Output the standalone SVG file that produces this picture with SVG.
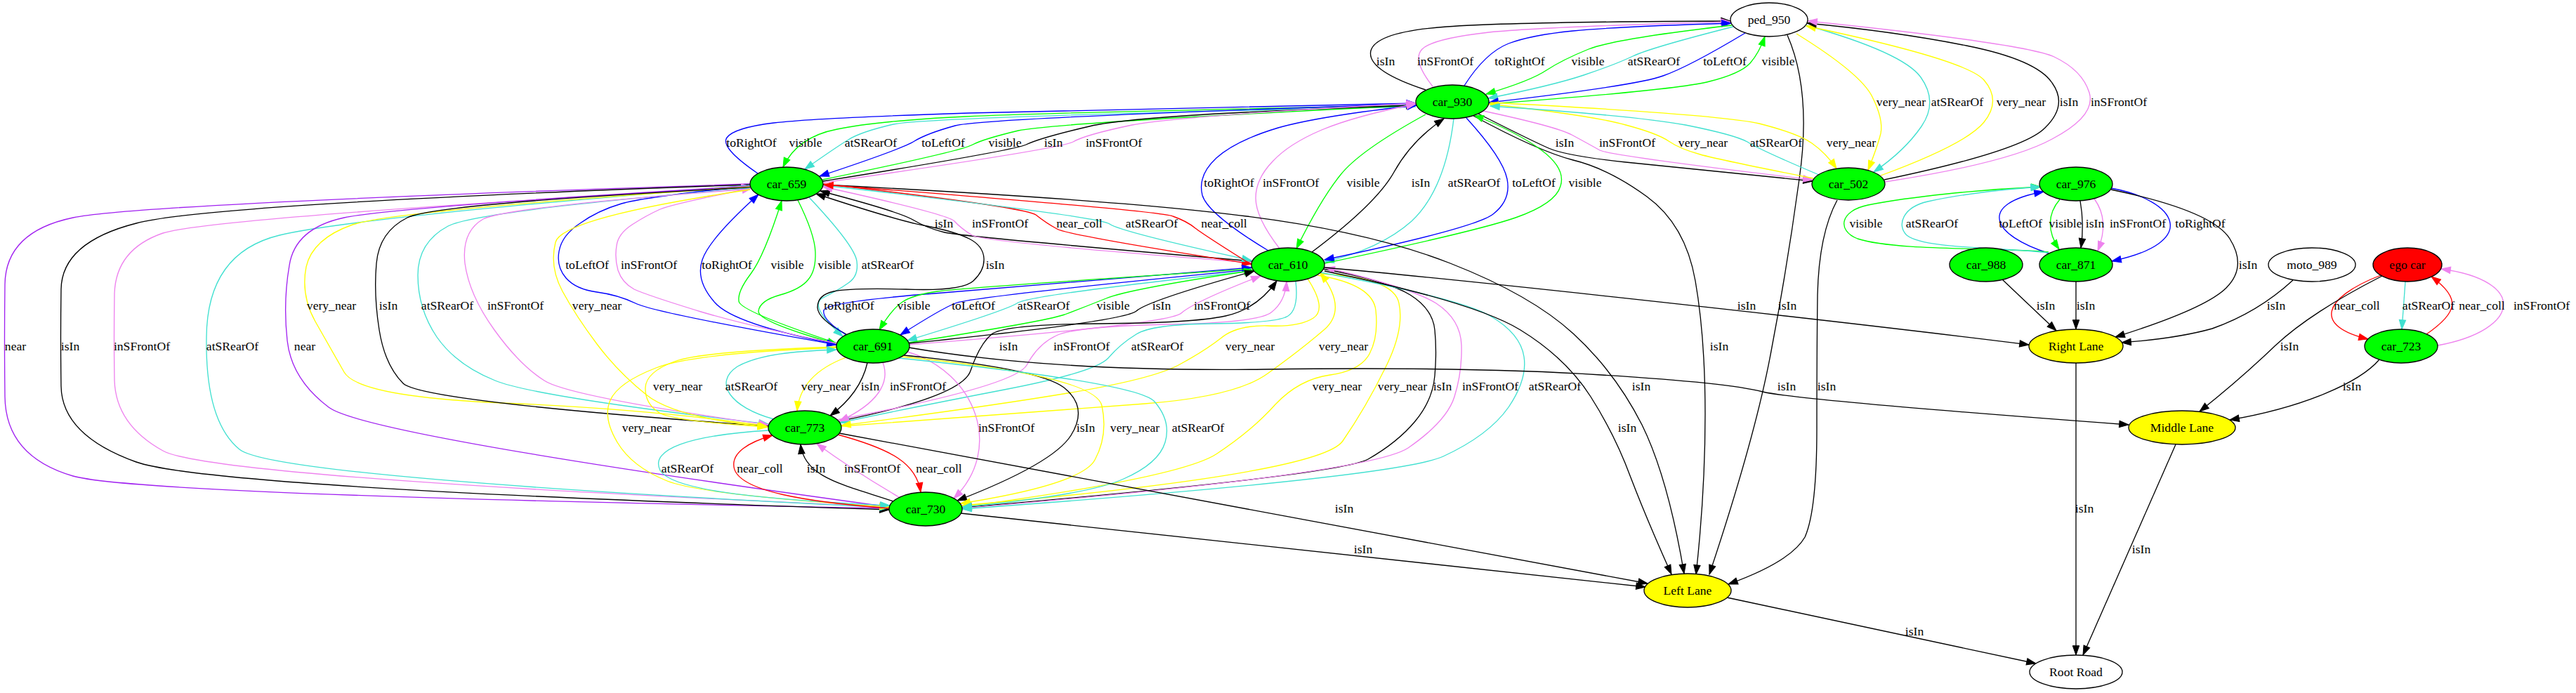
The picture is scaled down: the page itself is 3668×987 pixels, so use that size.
<svg xmlns="http://www.w3.org/2000/svg" width="3668" height="987" viewBox="0 0 3668 987">
<style>
.e{fill:none;stroke-width:1.33}
.k{stroke:#000;marker-end:url(#ak)}
.g{stroke:#00ff00;marker-end:url(#ag)}
.b{stroke:#0000ff;marker-end:url(#ab)}
.c{stroke:#40e0d0;marker-end:url(#ac)}
.v{stroke:#ee82ee;marker-end:url(#av)}
.y{stroke:#ffff00;marker-end:url(#ay)}
.r{stroke:#ff0000;marker-end:url(#ar)}
.p{stroke:#a020f0;marker-end:url(#ap)}
.n ellipse{stroke:#000;stroke-width:1.33}
.t{font-family:"Liberation Serif","Times New Roman",serif;font-size:17.6px;text-anchor:middle;fill:#000}
</style>
<defs>
<marker id="ak" markerWidth="14" markerHeight="10" refX="13.3" refY="0" orient="auto" markerUnits="userSpaceOnUse" overflow="visible"><path d="M0,-4.7L13.3,0L0,4.7Z" fill="#000" stroke="#000"/></marker>
<marker id="ag" markerWidth="14" markerHeight="10" refX="13.3" refY="0" orient="auto" markerUnits="userSpaceOnUse" overflow="visible"><path d="M0,-4.7L13.3,0L0,4.7Z" fill="#00ff00" stroke="#00ff00"/></marker>
<marker id="ab" markerWidth="14" markerHeight="10" refX="13.3" refY="0" orient="auto" markerUnits="userSpaceOnUse" overflow="visible"><path d="M0,-4.7L13.3,0L0,4.7Z" fill="#0000ff" stroke="#0000ff"/></marker>
<marker id="ac" markerWidth="14" markerHeight="10" refX="13.3" refY="0" orient="auto" markerUnits="userSpaceOnUse" overflow="visible"><path d="M0,-4.7L13.3,0L0,4.7Z" fill="#40e0d0" stroke="#40e0d0"/></marker>
<marker id="av" markerWidth="14" markerHeight="10" refX="13.3" refY="0" orient="auto" markerUnits="userSpaceOnUse" overflow="visible"><path d="M0,-4.7L13.3,0L0,4.7Z" fill="#ee82ee" stroke="#ee82ee"/></marker>
<marker id="ay" markerWidth="14" markerHeight="10" refX="13.3" refY="0" orient="auto" markerUnits="userSpaceOnUse" overflow="visible"><path d="M0,-4.7L13.3,0L0,4.7Z" fill="#ffff00" stroke="#ffff00"/></marker>
<marker id="ar" markerWidth="14" markerHeight="10" refX="13.3" refY="0" orient="auto" markerUnits="userSpaceOnUse" overflow="visible"><path d="M0,-4.7L13.3,0L0,4.7Z" fill="#ff0000" stroke="#ff0000"/></marker>
<marker id="ap" markerWidth="14" markerHeight="10" refX="13.3" refY="0" orient="auto" markerUnits="userSpaceOnUse" overflow="visible"><path d="M0,-4.7L13.3,0L0,4.7Z" fill="#a020f0" stroke="#a020f0"/></marker>
</defs>
<rect width="3668" height="987" fill="#fff"/>
<g id="connectors">
<path class="e k" d="M2030,128 Q1945,100 1952,72 Q1960,45 2060,38 Q2160,31 2464,30"/>
<path class="e v" d="M2040,123 Q2010,85 2025,70 Q2040,55 2120,46 Q2200,38 2464,31"/>
<path class="e b" d="M2085,122 Q2115,75 2148,62 Q2180,50 2240,44 Q2300,38 2465,33"/>
<path class="e g" d="M2466,36 Q2300,55 2262,70 Q2225,85 2202,100 Q2180,115 2116,134"/>
<path class="e c" d="M2468,38 Q2350,68 2325,80 Q2300,92 2255,107 Q2210,122 2119,140"/>
<path class="e b" d="M2485,47 Q2405,95 2368,108 Q2330,122 2120,146"/>
<path class="e g" d="M2120,148 Q2390,128 2434,116 Q2478,105 2492,90 Q2505,75 2513,52"/>
<path class="e y" d="M2558,48 Q2650,105 2666,138 Q2682,170 2678,190 Q2673,210 2660,242"/>
<path class="e c" d="M2572,36 Q2710,75 2735,110 Q2760,145 2736,180 Q2712,215 2668,245"/>
<path class="e y" d="M2678,250 Q2800,205 2825,174 Q2850,143 2825,114 Q2800,85 2572,37"/>
<path class="e k" d="M2683,256 Q2880,215 2912,182 Q2945,150 2922,118 Q2900,85 2800,65 Q2700,45 2573,33"/>
<path class="e v" d="M2684,259 Q2860,232 2922,198 Q2985,165 2975,132 Q2965,100 2925,81 Q2885,62 2574,30"/>
<path class="e k" d="M2545,50 Q2580,130 2562,255 Q2545,380 2522,500 Q2500,620 2434,818"/>
<path class="e k" d="M2105,162 Q2180,200 2205,211 Q2230,222 2315,231 Q2400,240 2581,258"/>
<path class="e v" d="M2112,158 Q2215,180 2238,192 Q2262,205 2278,214 Q2295,222 2581,256"/>
<path class="e y" d="M2582,254 Q2450,228 2421,220 Q2392,212 2376,201 Q2360,190 2315,178 Q2270,165 2120,148"/>
<path class="e c" d="M2590,249 Q2505,213 2488,202 Q2470,192 2400,178 Q2330,165 2122,151"/>
<path class="e y" d="M2122,146 Q2450,163 2505,176 Q2560,190 2580,204 Q2600,218 2615,240"/>
<path class="e k" d="M2098,165 Q2190,215 2240,228 Q2290,240 2345,280 Q2400,320 2414,400 Q2428,480 2428,590 Q2428,700 2415,818"/>
<path class="e b" d="M1079,247 Q1025,210 1035,196 Q1045,182 1102,175 Q1160,168 1380,161 Q1600,155 2016,147"/>
<path class="e g" d="M2016,150 Q1500,160 1375,166 Q1250,172 1192,184 Q1135,195 1115,238"/>
<path class="e c" d="M2016,152 Q1320,166 1272,177 Q1225,188 1208,199 Q1190,210 1146,241"/>
<path class="e b" d="M2016,148 Q1400,168 1360,179 Q1320,190 1302,201 Q1285,212 1167,251"/>
<path class="e g" d="M1171,256 Q1370,215 1385,206 Q1400,198 1450,186 Q1500,175 2016,150"/>
<path class="e k" d="M1172,258 Q1440,215 1461,206 Q1482,196 1551,180 Q1620,163 2016,150"/>
<path class="e v" d="M1173,260 Q1510,212 1528,202 Q1545,192 1612,178 Q1680,165 2016,147"/>
<path class="e b" d="M1806,357 Q1720,305 1712,278 Q1705,250 1732,225 Q1760,200 1820,182 Q1880,165 2017,150"/>
<path class="e v" d="M1822,354 Q1788,310 1788,282 Q1788,255 1812,230 Q1835,205 1882,185 Q1930,165 2016,148"/>
<path class="e g" d="M2030,163 Q1935,215 1908,250 Q1880,285 1846,354"/>
<path class="e k" d="M1868,359 Q1960,290 1985,245 Q2010,200 2056,169"/>
<path class="e c" d="M2070,169 Q2058,270 2010,315 Q1965,355 1886,373"/>
<path class="e b" d="M2088,168 Q2140,225 2146,255 Q2152,285 2126,305 Q2100,325 1886,370"/>
<path class="e g" d="M1886,375 Q2100,330 2158,310 Q2215,290 2222,265 Q2230,240 2195,214 Q2160,188 2099,164"/>
<path class="e k" d="M1172,263 Q1600,285 1775,308 Q1950,330 2065,375 Q2180,420 2240,475 Q2300,530 2338,605 Q2375,680 2398,817"/>
<path class="e k" d="M1783,372 Q1370,337 1345,331 Q1320,325 1298,312 Q1275,300 1168,272"/>
<path class="e v" d="M1783,374 Q1400,345 1384,335 Q1368,325 1359,315 Q1350,305 1172,266"/>
<path class="e r" d="M1173,262 Q1460,295 1475,306 Q1490,318 1505,326 Q1520,335 1782,376"/>
<path class="e c" d="M1173,264 Q1565,308 1580,319 Q1595,330 1782,371"/>
<path class="e r" d="M1782,377 Q1715,335 1702,325 Q1690,315 1670,308 Q1650,300 1173,263"/>
<path class="e b" d="M1191,490 Q1045,462 1018,431 Q990,400 1000,370 Q1010,340 1080,277"/>
<path class="e g" d="M1192,489 Q1053,443 1052,429 Q1050,415 1069,390 Q1088,365 1113,286"/>
<path class="e g" d="M1136,285 Q1160,333 1161,359 Q1162,385 1151,398 Q1140,412 1111,420 Q1082,428 1080,443 Q1078,458 1192,490"/>
<path class="e c" d="M1152,281 Q1217,350 1220,372 Q1223,393 1208,403 Q1194,413 1172,424 Q1150,435 1200,479"/>
<path class="e k" d="M1205,476 Q1165,455 1164,438 Q1164,420 1187,415 Q1210,410 1290,412 Q1370,415 1386,400 Q1402,385 1401,368 Q1400,350 1380,340 Q1360,330 1320,322 Q1280,315 1162,276"/>
<path class="e b" d="M1068,265 Q920,280 885,290 Q851,300 826,318 Q800,335 796,358 Q792,380 806,396 Q820,412 850,416 Q880,420 905,432 Q930,445 1191,491"/>
<path class="e v" d="M1191,489 Q1076,467 998,444 Q920,420 903,412 Q886,403 880,385 Q875,367 878,350 Q880,333 900,320 Q920,307 940,298 Q960,290 1070,268"/>
<path class="e p" d="M1068,262 Q200,290 104,310 Q8,330 7,405 Q6,480 7,565 Q8,650 104,678 Q200,705 1266,724"/>
<path class="e k" d="M1068,263 Q300,290 194,318 Q88,345 87,412 Q86,480 87,550 Q88,620 194,658 Q300,695 1266,726"/>
<path class="e v" d="M1266,722 Q300,680 232,642 Q165,605 163,542 Q162,480 163,418 Q165,355 232,332 Q300,310 1069,266"/>
<path class="e c" d="M1068,264 Q500,310 398,335 Q295,360 294,480 Q292,600 341,640 Q390,680 1266,723"/>
<path class="e p" d="M1068,265 Q560,295 490,310 Q420,325 412,378 Q403,430 409,485 Q415,540 468,580 Q520,620 1266,722"/>
<path class="e y" d="M1068,266 Q560,300 502,320 Q445,340 436,380 Q428,420 449,458 Q470,495 490,530 Q510,565 715,574 Q920,582 1094,607"/>
<path class="e k" d="M1068,267 Q620,290 580,310 Q540,330 536,375 Q532,420 540,470 Q548,520 574,546 Q600,572 1094,607"/>
<path class="e c" d="M1068,268 Q680,300 638,322 Q595,345 595,392 Q595,440 622,480 Q650,520 705,542 Q760,565 1094,604"/>
<path class="e v" d="M1068,269 Q720,295 688,312 Q657,330 662,375 Q668,420 704,470 Q740,520 775,542 Q810,565 1094,605"/>
<path class="e y" d="M1068,270 Q800,310 791,345 Q782,380 801,415 Q820,450 850,490 Q880,530 920,562 Q960,595 1094,608"/>
<path class="e b" d="M1205,477 Q1170,455 1173,442 Q1176,430 1330,418 Q1480,405 1782,381"/>
<path class="e g" d="M1782,383 Q1370,410 1335,415 Q1300,420 1285,430 Q1270,440 1252,470"/>
<path class="e b" d="M1782,384 Q1380,423 1360,432 Q1340,440 1282,477"/>
<path class="e c" d="M1782,386 Q1465,420 1448,432 Q1430,443 1292,485"/>
<path class="e g" d="M1294,488 Q1487,458 1516,448 Q1545,437 1575,425 Q1605,412 1785,385"/>
<path class="e k" d="M1294,489 Q1600,458 1618,443 Q1635,428 1786,386"/>
<path class="e v" d="M1293,491 Q1665,462 1682,446 Q1700,430 1795,393"/>
<path class="e k" d="M1194,600 Q1370,565 1382,528 Q1395,490 1412,476 Q1430,462 1565,461 Q1700,460 1745,450 Q1790,440 1818,400"/>
<path class="e v" d="M1192,598 Q1445,550 1462,520 Q1478,490 1504,478 Q1530,465 1660,462 Q1790,460 1810,445 Q1830,430 1832,401"/>
<path class="e c" d="M1845,401 Q1850,445 1830,452 Q1810,460 1725,461 Q1640,462 1618,476 Q1595,490 1578,510 Q1560,530 1430,555 Q1300,580 1196,602"/>
<path class="e y" d="M1862,397 Q1890,440 1870,453 Q1850,466 1805,464 Q1760,463 1738,482 Q1715,500 1678,520 Q1640,540 1520,560 Q1400,580 1198,606"/>
<path class="e y" d="M1199,607 Q1500,585 1630,575 Q1760,565 1805,532 Q1850,500 1885,470 Q1920,440 1880,389"/>
<path class="e y" d="M1876,392 Q1955,405 1959,442 Q1963,480 1950,504 Q1937,528 1894,534 Q1850,540 1816,576 Q1783,613 1733,646 Q1683,680 1370,722"/>
<path class="e y" d="M1880,390 Q1985,395 1992,432 Q2000,470 1972,525 Q1945,580 1912,628 Q1880,675 1370,720"/>
<path class="e k" d="M1884,383 Q1976,400 2008,420 Q2040,440 2043,470 Q2046,500 2043,535 Q2040,570 2015,600 Q1990,630 1948,654 Q1906,677 1370,723"/>
<path class="e v" d="M1370,724 Q1950,675 2005,638 Q2060,600 2071,565 Q2082,530 2081,492 Q2080,455 2045,432 Q2010,410 1887,381"/>
<path class="e c" d="M1880,388 Q2080,425 2122,450 Q2165,475 2170,508 Q2175,540 2148,580 Q2120,620 2055,650 Q1990,680 1370,725"/>
<path class="e v" d="M1292,501 C1390,530 1430,640 1358,710"/>
<path class="e k" d="M1287,506 Q1480,525 1515,552 Q1550,580 1525,620 Q1500,660 1363,713"/>
<path class="e y" d="M1284,508 Q1560,535 1569,578 Q1578,620 1559,655 Q1540,690 1368,717"/>
<path class="e c" d="M1280,510 Q1620,545 1644,572 Q1668,600 1659,630 Q1650,660 1600,682 Q1550,705 1370,722"/>
<path class="e y" d="M1192,495 Q987,503 934,524 Q880,545 869,570 Q858,595 879,630 Q900,665 950,685 Q1000,705 1266,722"/>
<path class="e y" d="M1192,494 Q1000,500 960,515 Q920,530 919,552 Q918,575 939,588 Q960,600 1092,608"/>
<path class="e c" d="M1102,597 C1040,580 1015,545 1050,522 C1080,505 1130,500 1191,498"/>
<path class="e y" d="M1205,509 Q1140,533 1135,585"/>
<path class="e k" d="M1235,517 Q1225,560 1182,592"/>
<path class="e v" d="M1257,516 C1268,545 1250,575 1195,600"/>
<path class="e c" d="M1094,613 C980,620 925,640 940,670 C955,695 1050,710 1267,720"/>
<path class="e r" d="M1266,724 C1150,715 1050,700 1045,665 C1042,645 1065,630 1100,620"/>
<path class="e k" d="M1272,714 C1200,690 1145,680 1140,633"/>
<path class="e v" d="M1280,708 Q1215,670 1163,632"/>
<path class="e r" d="M1193,619 C1270,640 1305,660 1311,701"/>
<path class="e b" d="M2918,361 C2835,335 2815,290 2910,273"/>
<path class="e g" d="M2933,284 C2915,305 2915,330 2932,355"/>
<path class="e k" d="M2962,286 Q2968,320 2963,353"/>
<path class="e v" d="M2982,283 C2998,305 2998,330 2987,357"/>
<path class="e b" d="M3006,268 C3100,285 3135,345 3007,372"/>
<path class="e g" d="M2917,359 C2850,352 2700,358 2645,340 C2615,328 2620,300 2660,292 C2720,280 2820,270 2906,266"/>
<path class="e c" d="M2917,360 C2850,352 2740,355 2715,335 C2700,320 2710,295 2745,287 C2790,277 2850,270 2905,266"/>
<path class="e r" d="M3390,392 C3305,425 3295,465 3372,483"/>
<path class="e c" d="M3425,401 L3420,469"/>
<path class="e r" d="M3455,476 C3500,445 3505,425 3462,394"/>
<path class="e v" d="M3471,492 C3590,470 3600,400 3476,383"/>
<path class="e k" d="M1886,381 C2100,400 2600,455 2889,491"/>
<path class="e k" d="M3006,270 Q3150,300 3175,340 Q3200,380 3170,410 Q3140,440 3012,480"/>
<path class="e k" d="M3265,399 Q3215,445 3150,468 Q3100,482 3021,488"/>
<path class="e k" d="M2851,398 L2928,471"/>
<path class="e k" d="M2956,401 L2956,469"/>
<path class="e k" d="M1886,386 Q2100,430 2165,470 Q2230,510 2265,565 Q2300,620 2322,680 Q2345,740 2380,818"/>
<path class="e k" d="M2616,285 Q2590,333 2588,420 Q2587,500 2587,610 Q2587,727 2570,765 Q2550,800 2461,832"/>
<path class="e k" d="M1195,617 L2346,831"/>
<path class="e k" d="M1368,731 L2343,836"/>
<path class="e k" d="M2459,851 L2899,945"/>
<path class="e k" d="M2956,517 L2956,933"/>
<path class="e k" d="M3098,633 L2966,933"/>
<path class="e k" d="M1294,495 Q1500,530 1800,526 Q2100,522 2280,534 Q2460,545 2510,558 Q2560,570 3031,605"/>
<path class="e k" d="M3392,393 Q3290,445 3240,492 Q3190,540 3132,586"/>
<path class="e k" d="M3388,512 C3360,545 3280,580 3175,598"/>
</g>
<g id="node-ped_950" class="n"><ellipse cx="2519" cy="28" rx="55" ry="24" fill="#ffffff"/><text class="t" x="2519" y="34">ped_950</text></g>
<g id="node-car_930" class="n"><ellipse cx="2068" cy="145" rx="52" ry="24" fill="#00ff00"/><text class="t" x="2068" y="151">car_930</text></g>
<g id="node-car_659" class="n"><ellipse cx="1120" cy="262" rx="52" ry="24" fill="#00ff00"/><text class="t" x="1120" y="268">car_659</text></g>
<g id="node-car_502" class="n"><ellipse cx="2632" cy="262" rx="52" ry="23" fill="#00ff00"/><text class="t" x="2632" y="268">car_502</text></g>
<g id="node-car_976" class="n"><ellipse cx="2956" cy="262" rx="52" ry="24" fill="#00ff00"/><text class="t" x="2956" y="268">car_976</text></g>
<g id="node-car_610" class="n"><ellipse cx="1834" cy="377" rx="52" ry="24" fill="#00ff00"/><text class="t" x="1834" y="383">car_610</text></g>
<g id="node-car_988" class="n"><ellipse cx="2828" cy="377" rx="52" ry="24" fill="#00ff00"/><text class="t" x="2828" y="383">car_988</text></g>
<g id="node-car_871" class="n"><ellipse cx="2956" cy="377" rx="52" ry="24" fill="#00ff00"/><text class="t" x="2956" y="383">car_871</text></g>
<g id="node-moto_989" class="n"><ellipse cx="3292" cy="377" rx="62" ry="24" fill="#ffffff"/><text class="t" x="3292" y="383">moto_989</text></g>
<g id="node-ego_car" class="n"><ellipse cx="3428" cy="377" rx="49" ry="24" fill="#ff0000"/><text class="t" x="3428" y="383">ego car</text></g>
<g id="node-car_691" class="n"><ellipse cx="1243" cy="493" rx="52" ry="24" fill="#00ff00"/><text class="t" x="1243" y="499">car_691</text></g>
<g id="node-right_lane" class="n"><ellipse cx="2956" cy="493" rx="67" ry="24" fill="#ffff00"/><text class="t" x="2956" y="499">Right Lane</text></g>
<g id="node-car_723" class="n"><ellipse cx="3419" cy="493" rx="52" ry="24" fill="#00ff00"/><text class="t" x="3419" y="499">car_723</text></g>
<g id="node-car_773" class="n"><ellipse cx="1146" cy="609" rx="52" ry="24" fill="#00ff00"/><text class="t" x="1146" y="615">car_773</text></g>
<g id="node-middle_lane" class="n"><ellipse cx="3107" cy="609" rx="76" ry="24" fill="#ffff00"/><text class="t" x="3107" y="615">Middle Lane</text></g>
<g id="node-car_730" class="n"><ellipse cx="1318" cy="725" rx="52" ry="24" fill="#00ff00"/><text class="t" x="1318" y="731">car_730</text></g>
<g id="node-left_lane" class="n"><ellipse cx="2403" cy="841" rx="62" ry="24" fill="#ffff00"/><text class="t" x="2403" y="847">Left Lane</text></g>
<g id="node-root_road" class="n"><ellipse cx="2956" cy="957" rx="66" ry="24" fill="#ffffff"/><text class="t" x="2956" y="963">Root Road</text></g>
<g id="edge-labels" class="t">
<text x="1973" y="93">isIn</text><text x="2058" y="93">inSFrontOf</text><text x="2164" y="93">toRightOf</text><text x="2261" y="93">visible</text><text x="2355" y="93">atSRearOf</text><text x="2456" y="93">toLeftOf</text><text x="2532" y="93">visible</text>
<text x="2707" y="151">very_near</text><text x="2787" y="151">atSRearOf</text><text x="2878" y="151">very_near</text><text x="2946" y="151">isIn</text><text x="3017" y="151">inSFrontOf</text>
<text x="1070" y="209">toRightOf</text><text x="1147" y="209">visible</text><text x="1240" y="209">atSRearOf</text><text x="1343" y="209">toLeftOf</text><text x="1431" y="209">visible</text><text x="1500" y="209">isIn</text><text x="1586" y="209">inSFrontOf</text><text x="2228" y="209">isIn</text><text x="2317" y="209">inSFrontOf</text><text x="2425" y="209">very_near</text><text x="2529" y="209">atSRearOf</text><text x="2636" y="209">very_near</text>
<text x="1750" y="266">toRightOf</text><text x="1838" y="266">inSFrontOf</text><text x="1941" y="266">visible</text><text x="2023" y="266">isIn</text><text x="2099" y="266">atSRearOf</text><text x="2184" y="266">toLeftOf</text><text x="2257" y="266">visible</text>
<text x="1344" y="324">isIn</text><text x="1424" y="324">inSFrontOf</text><text x="1537" y="324">near_coll</text><text x="1640" y="324">atSRearOf</text><text x="1743" y="324">near_coll</text><text x="2657" y="324">visible</text><text x="2751" y="324">atSRearOf</text><text x="2877" y="324">toLeftOf</text><text x="2941" y="324">visible</text><text x="2983" y="324">isIn</text><text x="3044" y="324">inSFrontOf</text><text x="3133" y="324">toRightOf</text>
<text x="836" y="383">toLeftOf</text><text x="924" y="383">inSFrontOf</text><text x="1035" y="383">toRightOf</text><text x="1121" y="383">visible</text><text x="1188" y="383">visible</text><text x="1264" y="383">atSRearOf</text><text x="1417" y="383">isIn</text><text x="3201" y="383">isIn</text>
<text x="472" y="441">very_near</text><text x="553" y="441">isIn</text><text x="637" y="441">atSRearOf</text><text x="734" y="441">inSFrontOf</text><text x="850" y="441">very_near</text><text x="1209" y="441">toRightOf</text><text x="1301" y="441">visible</text><text x="1386" y="441">toLeftOf</text><text x="1486" y="441">atSRearOf</text><text x="1585" y="441">visible</text><text x="1654" y="441">isIn</text><text x="1740" y="441">inSFrontOf</text><text x="2487" y="441">isIn</text><text x="2545" y="441">isIn</text><text x="2913" y="441">isIn</text><text x="2970" y="441">isIn</text><text x="3241" y="441">isIn</text><text x="3356" y="441">near_coll</text><text x="3458" y="441">atSRearOf</text><text x="3534" y="441">near_coll</text><text x="3619" y="441">inSFrontOf</text>
<text x="22" y="499">near</text><text x="100" y="499">isIn</text><text x="202" y="499">inSFrontOf</text><text x="331" y="499">atSRearOf</text><text x="434" y="499">near</text><text x="1436" y="499">isIn</text><text x="1540" y="499">inSFrontOf</text><text x="1648" y="499">atSRearOf</text><text x="1780" y="499">very_near</text><text x="1913" y="499">very_near</text><text x="2448" y="499">isIn</text><text x="3260" y="499">isIn</text>
<text x="965" y="556">very_near</text><text x="1070" y="556">atSRearOf</text><text x="1176" y="556">very_near</text><text x="1239" y="556">isIn</text><text x="1307" y="556">inSFrontOf</text><text x="1904" y="556">very_near</text><text x="1997" y="556">very_near</text><text x="2054" y="556">isIn</text><text x="2122" y="556">inSFrontOf</text><text x="2214" y="556">atSRearOf</text><text x="2337" y="556">isIn</text><text x="2544" y="556">isIn</text><text x="2601" y="556">isIn</text><text x="3349" y="556">isIn</text>
<text x="921" y="615">very_near</text><text x="1433" y="615">inSFrontOf</text><text x="1546" y="615">isIn</text><text x="1616" y="615">very_near</text><text x="1706" y="615">atSRearOf</text><text x="2317" y="615">isIn</text>
<text x="979" y="673">atSRearOf</text><text x="1082" y="673">near_coll</text><text x="1162" y="673">isIn</text><text x="1242" y="673">inSFrontOf</text><text x="1337" y="673">near_coll</text>
<text x="1914" y="730">isIn</text><text x="2968" y="730">isIn</text>
<text x="1941" y="788">isIn</text><text x="3049" y="788">isIn</text>
<text x="2726" y="905">isIn</text>
</g>
</svg>
